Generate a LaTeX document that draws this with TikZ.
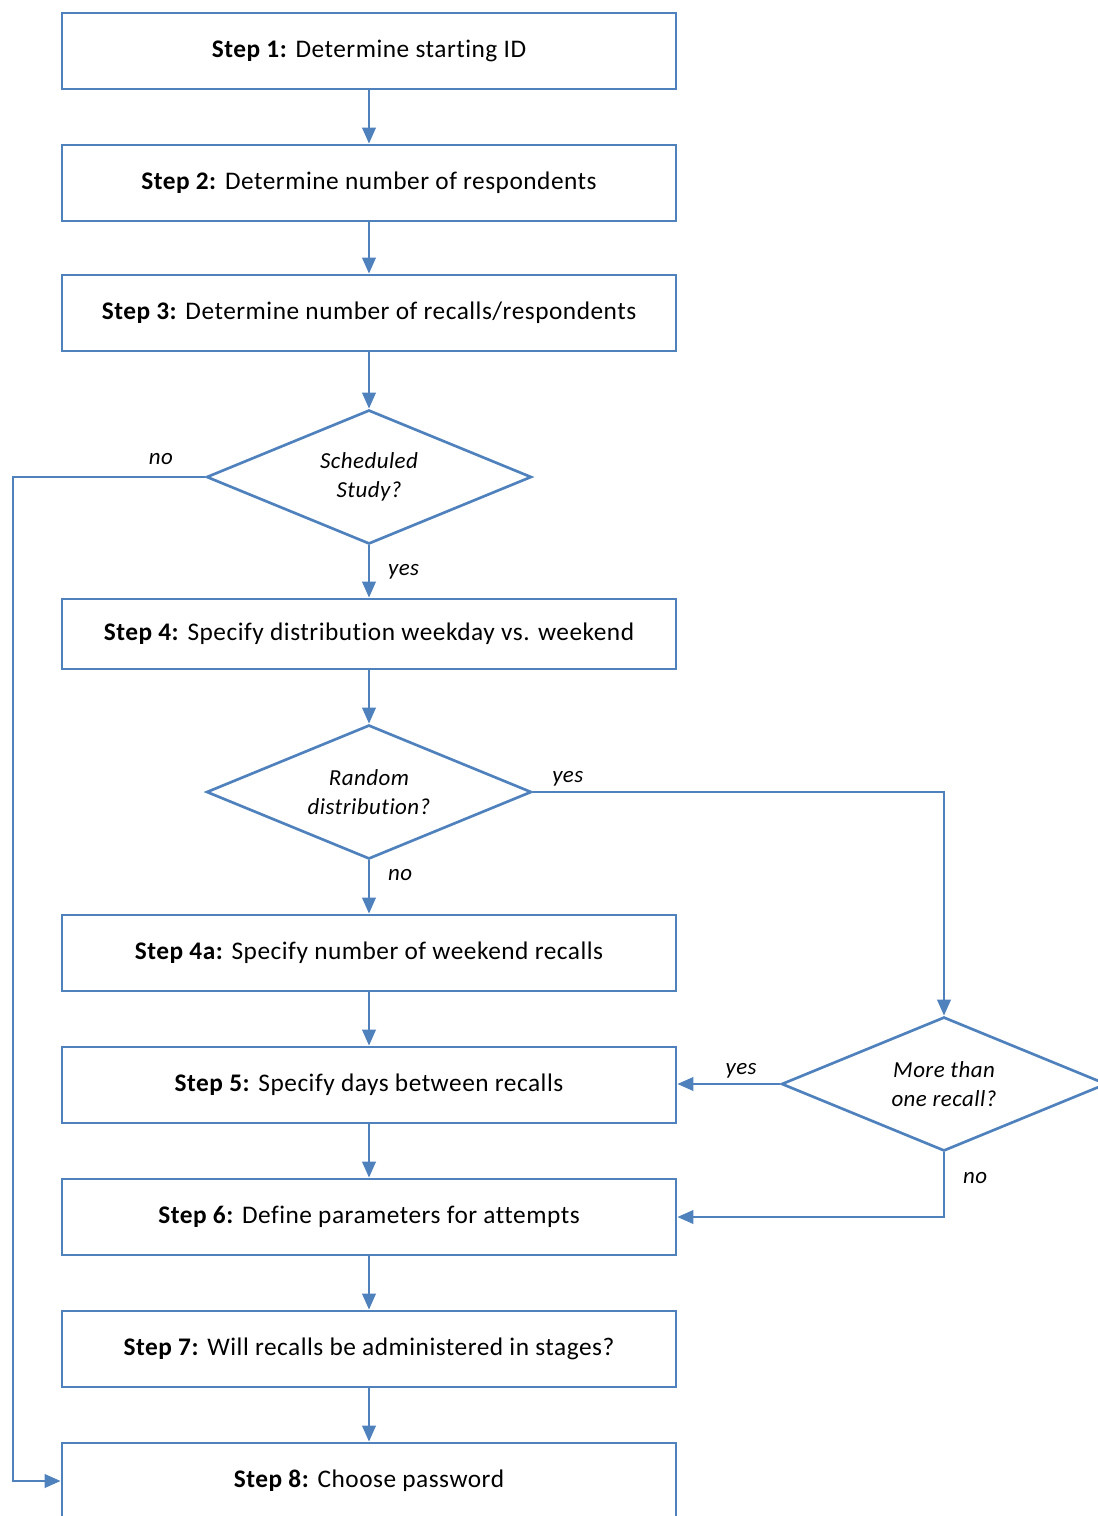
\documentclass[tikz,border=0pt]{standalone}
\usepackage{fontspec}
\setmainfont{Carlito}[Ligatures=NoCommon,LetterSpace=2]
\usetikzlibrary{shapes.geometric,arrows.meta}
\definecolor{lineblue}{HTML}{4F81BD}
\begin{document}
\begin{tikzpicture}[x=0.75pt,y=-0.75pt,
 box/.style={draw=lineblue,line width=2pt,fill=white,minimum width=460.5pt,minimum height=57pt,inner sep=0pt,font=\fontsize{19}{22}\selectfont},
 dec/.style={diamond,draw=lineblue,line width=2pt,fill=white,minimum width=243.75pt,minimum height=100.5pt,inner sep=0pt},
 dectext/.style={align=center,inner sep=0pt,font=\itshape\fontsize{17.2}{21.75}\selectfont},
 arr/.style={draw=lineblue,line width=2pt,-{Triangle[length=12pt,width=10pt]}},
 lbl/.style={font=\itshape\fontsize{17.2}{20}\selectfont}]
\path[use as bounding box] (0,0) rectangle (1098,1516);
\clip (0,0) rectangle (1098,1516);
\node[box] (s1) at (369,51) {\textbf{Step 1:} Determine starting ID};
\node[box] (s2) at (369,183) {\textbf{Step 2:} Determine number of respondents};
\node[box] (s3) at (369,313) {\textbf{Step 3:} Determine number of recalls/respondents};
\node[dec,label={[dectext]center:{Scheduled\\Study?}}] (d1) at (369,477) {};
\node[box,minimum height=52.5pt] (s4) at (369,634) {\textbf{Step 4:} Specify distribution weekday vs. weekend};
\node[dec,label={[dectext]center:{Random\\distribution?}}] (d2) at (369,792) {};
\node[box] (s4a) at (369,953) {\textbf{Step 4a:} Specify number of weekend recalls};
\node[box] (s5) at (369,1085) {\textbf{Step 5:} Specify days between recalls};
\node[box] (s6) at (369,1217) {\textbf{Step 6:} Define parameters for attempts};
\node[box] (s7) at (369,1349) {\textbf{Step 7:} Will recalls be administered in stages?};
\node[box] (s8) at (369,1481) {\textbf{Step 8:} Choose password};
\node[dec,label={[dectext]center:{More than\\one recall?}}] (d3) at (944,1084) {};
\coordinate (lft) at (13,477);
\draw[arr] (s1) -- (s2);
\draw[arr] (s2) -- (s3);
\draw[arr] (s3) -- (d1);
\draw[arr] (d1.south) -- node[lbl,right=10pt,pos=0.5]{yes} (s4);
\draw[arr] (d1.west) -- node[lbl,above=5pt,pos=0.23]{no} (lft) |- (s8.west);
\draw[arr] (s4) -- (d2);
\draw[arr] (d2.east) -- node[lbl,above,pos=0.085]{yes} (d2.east -| d3.north) -- (d3.north);
\draw[arr] (d2.south) -- node[lbl,right=10pt,pos=0.27]{no} (s4a);
\draw[arr] (s4a) -- (s5);
\draw[arr] (d3.west) -- node[lbl,above,pos=0.38]{yes} (d3.west -| s5.east);
\draw[arr] (d3.south) |- node[lbl,right=10pt,pos=0.2]{no} (s6.east);
\draw[arr] (s5) -- (s6);
\draw[arr] (s6) -- (s7);
\draw[arr] (s7) -- (s8);
\end{tikzpicture}
\end{document}
